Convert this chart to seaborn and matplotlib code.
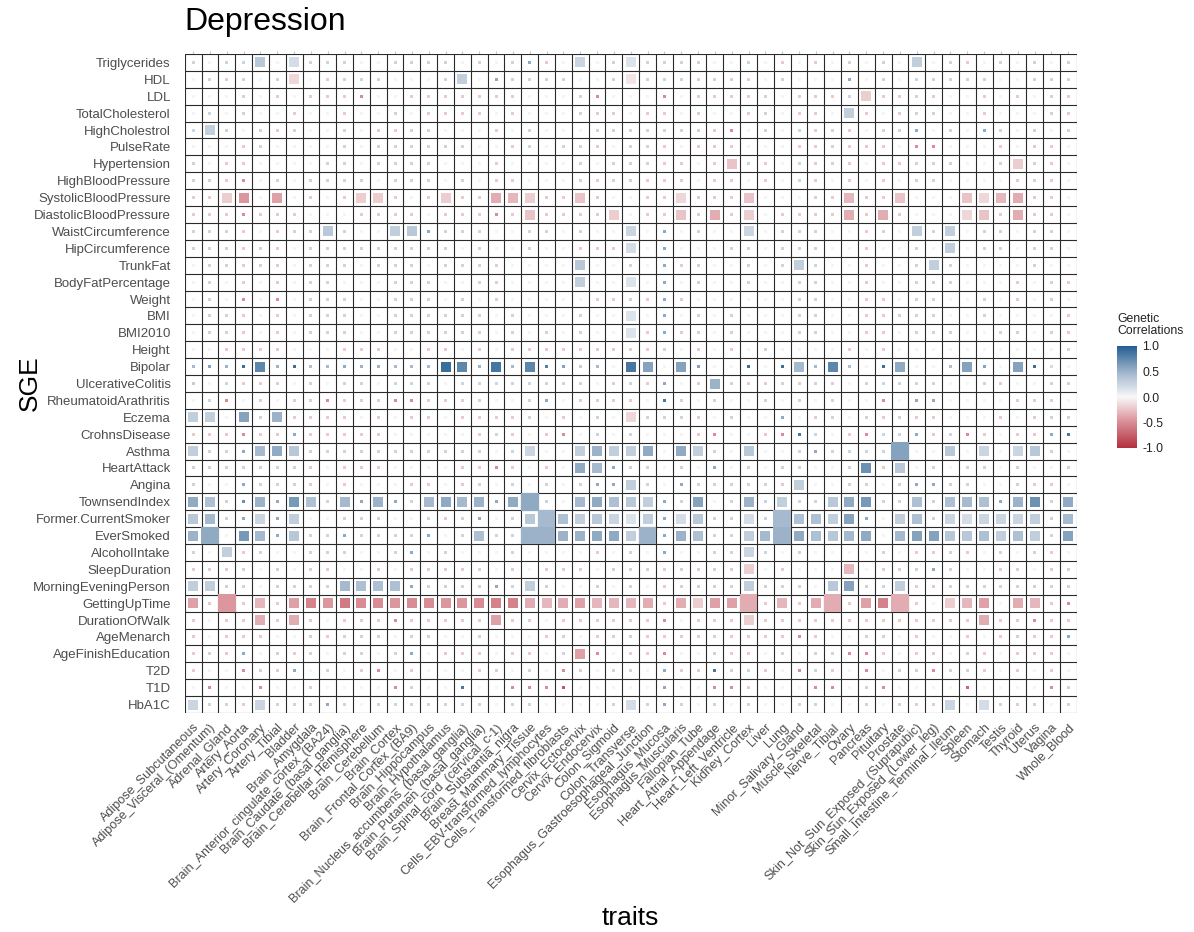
import numpy as np
import pandas as pd
import matplotlib
matplotlib.use("Agg")
import matplotlib.pyplot as plt
import seaborn as sns
from matplotlib.colors import LinearSegmentedColormap, Normalize

TRAITS = ["Adipose_Subcutaneous", "Adipose_Visceral_(Omentum)", "Adrenal_Gland", "Artery_Aorta",
          "Artery_Coronary", "Artery_Tibial", "Bladder", "Brain_Amygdala",
          "Brain_Anterior_cingulate_cortex_(BA24)", "Brain_Caudate_(basal_ganglia)",
          "Brain_Cerebellar_Hemisphere", "Brain_Cerebellum", "Brain_Cortex", "Brain_Frontal_Cortex_(BA9)",
          "Brain_Hippocampus", "Brain_Hypothalamus", "Brain_Nucleus_accumbens_(basal_ganglia)",
          "Brain_Putamen_(basal_ganglia)", "Brain_Spinal_cord_(cervical_c-1)", "Brain_Substantia_nigra",
          "Breast_Mammary_Tissue", "Cells_EBV-transformed_lymphocytes", "Cells_Transformed_fibroblasts",
          "Cervix_Ectocervix", "Cervix_Endocervix", "Colon_Sigmoid", "Colon_Transverse",
          "Esophagus_Gastroesophageal_Junction", "Esophagus_Mucosa", "Esophagus_Muscularis",
          "Fallopian_Tube", "Heart_Atrial_Appendage", "Heart_Left_Ventricle", "Kidney_Cortex", "Liver",
          "Lung", "Minor_Salivary_Gland", "Muscle_Skeletal", "Nerve_Tibial", "Ovary", "Pancreas",
          "Pituitary", "Prostate", "Skin_Not_Sun_Exposed_(Suprapubic)", "Skin_Sun_Exposed_(Lower_leg)",
          "Small_Intestine_Terminal_Ileum", "Spleen", "Stomach", "Testis", "Thyroid", "Uterus",
          "Vagina", "Whole_Blood"]

SGE = ["Triglycerides", "HDL", "LDL", "TotalCholesterol", "HighCholestrol", "PulseRate",
       "Hypertension", "HighBloodPressure", "SystolicBloodPressure", "DiastolicBloodPressure",
       "WaistCircumference", "HipCircumference", "TrunkFat", "BodyFatPercentage", "Weight", "BMI",
       "BMI2010", "Height", "Bipolar", "UlcerativeColitis", "RheumatoidArathritis", "Eczema",
       "CrohnsDisease", "Asthma", "HeartAttack", "Angina", "TownsendIndex", "Former.CurrentSmoker",
       "EverSmoked", "AlcoholIntake", "SleepDuration", "MorningEveningPerson", "GettingUpTime",
       "DurationOfWalk", "AgeMenarch", "AgeFinishEducation", "T2D", "T1D", "HbA1C"]

# genetic correlation (colour) per SGE row, one value per trait
R_TRIGLYCERIDES = [.25,.03,.25,.25,.35,.03,.2,.25,.25,.25, .03,.03,.25,.25,.25,.25,.03,.25,.03,.25, .55,-.22,.03,.25,.03,.25,.15,.25,.25,.25, .25,.03,.03,.25,.03,-.22,.03,-.22,.03,.25, .03,.25,.03,.3,.03,.25,-.22,.03,.25,.03, .25,.03,.25]
R_HDL = [.03,.25,-.22,.25,.03,.25,-.15,.03,-.22,.25, .25,.25,.03,.03,.03,.25,.3,.03,.55,.25, .25,.25,.25,.03,.03,.25,-.1,.25,.25,.25, -.22,.25,-.22,-.22,.03,.25,.03,.03,.03,.55, .03,.25,.03,.25,.25,.25,.25,.25,.03,.03, .25,.25,.25]
R_LDL = [.03,.03,.03,.25,.03,-.22,.03,-.22,-.22,-.22, -.5,.03,.03,-.22,-.22,-.22,-.22,-.22,-.22,-.22, .03,.03,.03,.25,-.5,.03,.03,.03,-.5,.03, -.22,-.22,-.22,-.22,.25,.03,-.22,-.22,-.22,.25, -.2,-.22,-.22,.25,-.22,.03,.03,-.22,.03,-.22, .03,.25,-.22]
R_TOTALCHOLESTEROL = [.03,.25,.03,.25,.03,.03,-.22,.03,.03,-.22, .03,.03,.25,.03,-.22,-.22,-.22,-.22,.03,-.22, .03,.03,.03,.25,-.22,-.22,.03,-.22,-.22,.03, -.22,.03,.03,-.22,.25,.03,-.22,-.22,.03,.3, -.22,.03,-.22,.25,.25,.03,.03,-.22,.03,.03, .03,.25,-.22]
R_HIGHCHOLESTROL = [.25,.3,.25,.03,.25,-.22,.25,.03,.03,.25, .03,-.22,-.22,.25,.25,.03,.03,.03,-.22,.03, .25,.03,.03,.03,.25,.25,.25,.25,.25,.25, .25,-.22,-.5,.03,.25,.03,.25,-.22,.25,-.22, .03,.25,.25,.55,.03,.25,.03,.55,.25,.03, .25,.03,.25]
R_PULSERATE = [.03,.03,.03,-.22,.25,.03,.03,.03,.03,.25, .03,.25,.25,.25,.25,.25,.25,.03,.03,-.22, .25,.03,.25,.25,-.22,.03,.25,.25,-.22,.03, -.22,-.22,-.22,.03,.03,.03,-.22,-.22,.25,-.22, -.22,-.22,.03,-.5,-.5,.03,.03,.03,-.22,.03, -.22,-.22,.03]
R_HYPERTENSION = [.25,.03,-.22,-.22,.03,.03,.03,.03,.25,.25, .03,.25,.25,.25,.25,.03,.03,.03,-.22,.03, .03,.03,.03,.25,.03,.25,.25,.25,-.22,-.22, .03,-.22,-.25,.25,-.22,.03,.25,-.22,.25,-.22, .03,-.22,-.22,.25,.25,.25,.03,.03,.25,-.2, .25,-.22,.03]
R_HIGHBLOODPRESSURE = [.25,.25,-.22,-.5,.03,.25,.03,.25,.25,.25, .25,.03,.25,.25,.25,.03,.25,.03,-.22,-.22, .03,.03,.03,.25,-.22,.25,.25,-.22,-.22,-.22, .03,-.22,-.22,.03,-.22,.03,.25,-.22,.03,-.22, .03,-.22,.03,.25,.25,.03,.03,.03,.03,-.22, .25,-.22,.03]
R_SYSTOLICBLOODPRESSURE = [-.22,-.22,-.2,-.45,.03,-.4,.03,-.22,.03,-.22, -.2,-.2,-.22,.03,-.22,-.2,-.22,-.22,-.35,-.3, -.2,-.22,-.22,-.25,-.22,.03,.03,-.22,-.22,-.15, -.22,-.22,-.22,-.25,.03,.03,.03,-.22,-.22,-.3, -.22,-.22,-.25,.03,.03,.03,-.25,-.15,-.3,-.35, -.22,-.22,.03]
R_DIASTOLICBLOODPRESSURE = [-.22,-.22,-.22,-.5,-.22,-.22,-.22,.03,.03,.03, -.22,-.22,-.22,-.22,.03,-.22,-.22,-.22,-.5,-.22, -.25,-.22,-.22,-.22,-.22,-.2,.03,-.22,-.22,-.25, -.22,-.35,-.22,-.2,.03,-.22,-.22,-.22,-.22,-.35, -.22,-.35,-.22,.03,.03,.03,-.15,-.25,-.22,-.35, -.22,-.22,.03]
R_WAISTCIRCUMFERENCE = [.25,.25,.25,-.22,.03,-.22,.25,.25,.35,.25, .03,.03,.3,.35,.55,.25,.25,.25,.03,.03, .25,.25,.03,.25,.03,.03,.25,.03,.55,.03, .25,.03,.03,.25,.03,.25,.25,.25,.03,.03, -.22,.25,.03,.3,.25,.3,.03,.25,.25,.03, .25,.25,.03]
R_HIPCIRCUMFERENCE = [.25,.25,.25,-.22,.25,-.22,.03,.25,.25,.25, .25,.25,.25,.25,.25,.25,.03,.25,.03,.03, .25,.03,.03,-.22,-.22,-.22,.2,.03,.55,.03, .03,.03,.25,.25,.03,.25,.25,.25,.03,.03, -.22,.03,.03,.25,.03,.3,.03,.25,.25,.03, .25,.25,.03]
R_TRUNKFAT = [.03,.25,.25,-.22,.25,-.22,.03,.25,.25,.25, .03,.25,.25,.25,.03,.25,.25,.25,-.22,.03, .03,.03,.03,.35,.03,.03,.25,.03,.55,-.22, .25,.03,.03,.25,.03,.25,.3,.25,.03,.03, -.22,.03,.03,.25,.3,.25,.03,.03,.03,.03, .25,.03,.03]
R_BODYFATPERCENTAGE = [.03,.25,.03,-.22,.03,-.22,.03,.25,.25,.03, .03,.03,.25,.25,.25,.03,.03,.25,-.22,.03, .03,.03,.03,.3,.03,.03,.15,.03,.55,.03, .25,.03,.03,.25,.03,.03,.25,.25,.03,.03, -.22,.03,.03,.25,.25,.25,.03,.03,.03,-.22, .03,.25,-.22]
R_WEIGHT = [.03,.25,.03,-.5,.03,-.5,.03,.25,.25,.25, .03,.03,.25,.25,.25,.03,.25,.03,-.22,.03, .03,.03,.03,.03,-.22,-.22,.25,-.22,.55,-.22, .03,.03,.03,.03,.03,.03,.25,.25,.03,.03, -.22,-.22,.03,.25,.25,.03,.03,.25,.03,-.22, .03,.25,.03]
R_BMI = [.03,.25,.25,-.22,.03,-.22,.03,.25,.25,.25, .03,.03,.25,.25,.25,.25,.25,.25,.03,.25, .03,.03,.03,.25,.03,.03,.15,.03,.55,.03, .25,.03,.25,.03,.03,.03,.25,.25,.03,.03, -.22,-.22,.25,.25,.25,.03,.03,.25,.03,.03, .03,.03,-.22]
R_BMI2010 = [.03,.25,.25,-.22,.03,-.22,.03,.25,.25,.25, .03,.03,.25,.25,.25,.25,.25,.25,.03,.25, .03,.25,.03,.25,.03,.03,.15,-.22,.55,-.22, .25,.03,.25,.03,.03,.03,.25,.25,.03,.03, -.22,-.22,.03,.25,.25,.25,.03,.03,.25,.25, .03,.25,-.22]
R_HEIGHT = [.03,.03,-.22,-.22,-.22,-.22,.03,.03,.03,-.22, -.22,-.22,.03,.03,-.22,-.22,.03,-.22,.03,-.22, -.22,-.22,-.22,-.22,-.22,-.22,-.22,-.22,.25,.03, -.22,.03,-.22,.03,.25,.03,.03,.03,.03,-.22, .03,-.22,.03,.03,.03,.03,.03,.03,.03,.03, .03,.03,.25]
R_BIPOLAR = [.45,.6,.5,.9,.75,.5,.9,.4,.45,.55, .5,.5,.45,.45,.45,.9,.75,.5,.85,.45, .75,.8,.6,.3,.45,.03,.85,.6,.03,.6, .6,.03,.03,.9,.03,.9,.45,.45,.75,.4, .03,.9,.55,.03,.03,.4,.6,.6,.03,.6, .9,.2,.03]
R_ULCERATIVECOLITIS = [.3,.03,.25,-.22,-.22,-.22,.03,.25,.03,.25, .25,.03,.25,.25,.25,.03,.25,.25,.25,.25, .25,.25,.25,.25,.03,-.22,.25,-.22,.55,.03, -.22,.5,.25,-.22,-.22,.25,-.22,.25,-.22,.03, .25,.25,.25,.25,.25,.03,.03,.25,-.22,.03, .03,.25,.25]
R_RHEUMATOIDARATHRITIS = [.03,.25,-.5,.03,-.22,.03,-.22,-.22,-.5,-.22, -.22,-.22,-.5,-.5,-.22,-.22,-.22,-.22,.03,.03, .25,.55,.03,-.22,-.22,-.22,-.22,.03,.85,-.22, .03,.25,.03,.03,.25,.03,-.22,.03,-.22,.03, .03,-.5,.03,.55,.55,.03,.03,.03,.03,-.22, -.22,-.22,.03]
R_ECZEMA = [.3,.3,.03,.6,.25,.5,-.22,-.22,-.22,-.22, .03,-.22,.03,-.22,-.22,.03,-.22,-.22,-.22,-.22, .25,.03,-.22,.03,.25,.03,-.15,.25,.25,.25, -.22,.03,.25,.03,.03,.55,.03,-.22,.25,.03, .25,-.22,.25,-.22,-.22,.03,.03,.03,-.22,.03, -.22,.25,.25]
R_CROHNSDISEASE = [-.22,-.22,-.22,-.5,-.22,-.22,.55,-.22,-.22,-.22, -.22,-.22,.03,.03,.03,.03,.03,-.22,.25,-.22, .03,-.22,-.5,.03,.25,.03,.25,.03,.03,.03, -.22,-.5,.03,.03,-.22,-.5,.85,.25,.03,-.22, -.5,.25,.25,.55,-.22,.25,-.5,-.22,.03,-.22, -.22,.55,.85]
R_ASTHMA = [.3,.25,.25,.55,.45,.55,.35,.25,.25,.25, .25,.25,.25,.25,.25,.25,.25,.25,.03,.25, .25,.03,.03,.3,.5,.3,.3,.55,.03,.55, .3,.25,.03,.35,.03,.03,.25,.55,.25,.25, .25,.25,.6,.03,.03,.35,.03,.25,.03,.25, .35,.25,.03]
R_HEARTATTACK = [.25,.25,.25,.25,.25,.25,.25,-.22,.03,-.22, -.22,-.22,.03,.03,.03,.03,-.22,-.22,-.5,-.22, .03,-.22,.03,.55,.45,.55,.25,.25,.03,.25, .03,.55,.03,.25,.03,.25,.25,.03,.03,.25, .7,-.22,.35,.03,.25,.03,.25,.25,.03,.25, .03,.03,.25]
R_ANGINA = [.25,.03,.03,.55,.25,.25,.25,-.22,.03,-.22, .03,.03,.03,-.22,-.22,.03,-.22,.25,.03,.25, .03,.25,.03,.25,.55,.55,.3,.25,.03,.55, .25,.25,.25,.25,.25,-.22,.3,.03,.03,.25, .25,.03,.25,.55,.55,.25,.25,.03,.03,.25, -.22,-.22,.03]
R_TOWNSENDINDEX = [.55,.4,.25,.7,.5,.55,.65,.4,.25,.45, .55,.5,.55,.25,.45,.55,.45,.5,.55,.55, .55,.25,.03,.45,.55,.4,.35,.3,.55,.25, .6,.03,.25,.5,.25,.3,.25,.25,.35,.55, .65,.25,.25,.4,.25,.4,.45,.4,.55,.5, .7,.25,.55]
R_FORMERCURRENTSMOKER = [.35,.45,.25,.55,.25,.55,.3,.03,.03,.25, .25,.25,.03,.03,.25,-.22,.25,.55,.03,.25, .35,.45,.4,.3,.35,.25,.15,.3,.55,.2, .35,.25,.25,.2,.25,.45,.4,.4,.3,.6, .55,.03,.3,.4,.25,.25,.2,.25,.25,.25, .3,.25,.45]
R_EVERSMOKED = [.5,.55,.03,.65,.45,.55,.35,.25,.25,.55, .25,.25,.25,.25,.55,.03,.25,.4,.25,.25, .5,.5,.5,.5,.55,.55,.3,.5,.55,.5, .4,.25,.25,.3,.45,.5,.55,.4,.35,.45, .55,.03,.45,.6,.6,.35,.35,.4,.3,.4, .3,.25,.6]
R_ALCOHOLINTAKE = [.25,.03,.3,-.22,.25,.03,.03,.25,.25,.25, .03,.03,.25,.55,.03,.25,.03,.03,.03,.25, .03,.03,.03,.03,-.22,.03,.25,.03,.55,.03, .03,.25,.25,.25,.25,.03,.25,.03,.03,.03, .03,.25,.03,-.22,-.22,.25,-.22,.03,.25,.03, .25,-.22,.03]
R_SLEEPDURATION = [-.22,-.22,-.22,.25,.03,.25,.03,-.22,-.22,.03, .03,-.22,.03,-.22,-.22,-.22,-.22,-.22,.03,-.22, .03,-.22,-.22,-.22,.03,.25,.25,.25,-.22,.25, -.22,.25,-.22,-.2,.03,-.22,.03,.03,.03,-.3, .03,-.22,-.22,.25,.55,-.22,.03,.03,-.22,-.22, .03,-.22,.25]
R_MORNINGEVENINGPERSON = [.3,.3,.25,.25,.03,.25,.25,.25,.25,.45, .4,.4,.4,.55,.25,.25,.25,.25,.55,.25, .3,.25,.03,.03,.25,.03,.25,.03,-.22,.25, .25,.25,.25,.3,.25,.25,.25,.03,.35,.6, .25,.25,.3,-.22,-.22,.25,.25,.25,.25,.25, .25,.25,.25]
R_GETTINGUPTIME = [-.4,-.22,-.45,-.22,-.3,-.22,-.4,-.55,-.45,-.6, -.5,-.5,-.45,-.5,-.5,-.45,-.45,-.5,-.55,-.55, -.35,-.3,-.35,-.4,-.3,-.3,-.3,-.35,-.22,-.35, -.2,-.4,-.4,-.35,-.22,-.3,-.22,-.35,-.35,-.22, -.4,-.55,-.35,-.22,.03,-.2,-.3,-.4,.03,-.35, -.3,-.22,-.5]
R_DURATIONOFWALK = [-.22,.03,-.22,-.22,-.35,-.22,-.35,-.22,.03,-.22, -.22,-.22,-.5,-.22,-.22,-.22,-.22,-.22,-.4,-.22, -.22,.03,-.22,-.22,-.22,-.22,-.22,-.22,-.5,.03, -.22,-.22,-.22,-.2,-.22,-.22,-.22,-.22,-.22,-.22, -.22,-.22,-.22,-.22,-.22,-.22,-.22,-.35,-.22,-.22, -.5,-.22,-.22]
R_AGEMENARCH = [-.22,.03,-.22,-.22,-.22,.03,.03,.25,-.22,.25, .25,.25,.03,.25,.25,.03,.03,.25,.03,.03, .03,-.22,.25,.03,-.22,.25,.25,-.22,-.22,-.22, -.22,.25,-.22,-.22,-.22,-.22,-.5,-.22,.03,.03, .25,.25,.03,-.22,.03,.03,-.22,.03,-.22,.25, -.22,-.22,.55]
R_AGEFINISHEDUCATION = [-.22,.25,-.22,.55,.03,.25,-.22,.25,.03,.25, .25,.03,.25,.55,.03,-.22,-.22,-.22,.03,-.22, -.22,.03,.25,-.4,-.5,.03,-.22,-.22,-.5,.03, .03,.25,-.22,-.22,.03,.25,.03,.25,.25,-.5, -.5,-.22,.03,-.22,-.22,.03,.25,-.22,.03,-.22, -.22,-.22,.03]
R_T2D = [-.22,.03,.03,-.5,.25,-.22,.55,.03,.25,.03, -.22,-.5,.03,-.22,.03,.03,.03,-.22,.25,.03, .25,.03,-.5,-.22,.03,.25,.25,.03,.55,-.22, -.22,.85,.25,.25,-.22,.03,-.5,.25,-.22,.03, -.5,.03,.25,.25,-.5,.25,.25,-.22,.03,-.22, .03,-.22,.03]
R_T1D = [.03,-.5,.03,.03,-.5,.03,.03,-.22,.03,.03, .03,.03,-.5,.25,.03,.03,.85,.03,.03,-.5, -.5,-.5,-.8,.03,.03,.03,.03,.03,.55,.03, .03,-.5,-.5,-.22,.03,.03,.03,-.5,-.5,.03, .25,-.5,.03,.03,.03,.03,-.7,.03,.03,.03, .03,-.5,.25]
R_HBA1C = [.25,.25,.25,-.22,.25,.25,.25,.25,.55,.25, .03,.25,.25,.25,.25,.25,.25,.25,.03,.25, .25,.03,.03,.03,.03,.25,.2,.25,.55,.25, .03,.25,.03,.25,.03,.03,.25,.25,.03,.03, .25,.03,.25,-.22,-.22,.25,.03,.2,.25,-.22, .25,.03,.25]

# significance level per cell (0 = not significant, 1 = significant, 2 = highly significant)
S_TRIGLYCERIDES = [0,0,0,0,1,0,1,0,0,0, 0,0,0,0,0,0,0,0,0,0, 0,0,0,1,0,0,1,0,0,0, 0,0,0,0,0,0,0,0,0,0, 0,0,0,1,0,0,0,0,0,0, 0,0,0]
S_HDL = [0,0,0,0,0,0,1,0,0,0, 0,0,0,0,0,0,1,0,0,0, 0,0,0,0,0,0,1,0,0,0, 0,0,0,0,0,0,0,0,0,0, 0,0,0,0,0,0,0,0,0,0, 0,0,0]
S_LDL = [0,0,0,0,0,0,0,0,0,0, 0,0,0,0,0,0,0,0,0,0, 0,0,0,0,0,0,0,0,0,0, 0,0,0,0,0,0,0,0,0,0, 1,0,0,0,0,0,0,0,0,0, 0,0,0]
S_TOTALCHOLESTEROL = [0,0,0,0,0,0,0,0,0,0, 0,0,0,0,0,0,0,0,0,0, 0,0,0,0,0,0,0,0,0,0, 0,0,0,0,0,0,0,0,0,1, 0,0,0,0,0,0,0,0,0,0, 0,0,0]
S_HIGHCHOLESTROL = [0,1,0,0,0,0,0,0,0,0, 0,0,0,0,0,0,0,0,0,0, 0,0,0,0,0,0,0,0,0,0, 0,0,0,0,0,0,0,0,0,0, 0,0,0,0,0,0,0,0,0,0, 0,0,0]
S_PULSERATE = [0,0,0,0,0,0,0,0,0,0, 0,0,0,0,0,0,0,0,0,0, 0,0,0,0,0,0,0,0,0,0, 0,0,0,0,0,0,0,0,0,0, 0,0,0,0,0,0,0,0,0,0, 0,0,0]
S_HYPERTENSION = [0,0,0,0,0,0,0,0,0,0, 0,0,0,0,0,0,0,0,0,0, 0,0,0,0,0,0,0,0,0,0, 0,0,1,0,0,0,0,0,0,0, 0,0,0,0,0,0,0,0,0,1, 0,0,0]
S_HIGHBLOODPRESSURE = [0,0,0,0,0,0,0,0,0,0, 0,0,0,0,0,0,0,0,0,0, 0,0,0,0,0,0,0,0,0,0, 0,0,0,0,0,0,0,0,0,0, 0,0,0,0,0,0,0,0,0,0, 0,0,0]
S_SYSTOLICBLOODPRESSURE = [0,0,1,1,0,1,0,0,0,0, 1,1,0,0,0,1,0,0,1,1, 1,0,0,1,0,0,0,0,0,1, 0,0,0,1,0,0,0,0,0,1, 0,0,1,0,0,0,1,1,1,1, 0,0,0]
S_DIASTOLICBLOODPRESSURE = [0,0,0,0,0,0,0,0,0,0, 0,0,0,0,0,0,0,0,0,0, 1,0,0,0,0,1,0,0,0,1, 0,1,0,1,0,0,0,0,0,1, 0,1,0,0,0,0,1,1,0,1, 0,0,0]
S_WAISTCIRCUMFERENCE = [0,0,0,0,0,0,0,0,1,0, 0,0,1,1,0,0,0,0,0,0, 0,0,0,0,0,0,1,0,0,0, 0,0,0,1,0,0,0,0,0,0, 0,0,0,1,0,1,0,0,0,0, 0,0,0]
S_HIPCIRCUMFERENCE = [0,0,0,0,0,0,0,0,0,0, 0,0,0,0,0,0,0,0,0,0, 0,0,0,0,0,0,1,0,0,0, 0,0,0,0,0,0,0,0,0,0, 0,0,0,0,0,1,0,0,0,0, 0,0,0]
S_TRUNKFAT = [0,0,0,0,0,0,0,0,0,0, 0,0,0,0,0,0,0,0,0,0, 0,0,0,1,0,0,0,0,0,0, 0,0,0,0,0,0,1,0,0,0, 0,0,0,0,1,0,0,0,0,0, 0,0,0]
S_BODYFATPERCENTAGE = [0,0,0,0,0,0,0,0,0,0, 0,0,0,0,0,0,0,0,0,0, 0,0,0,1,0,0,1,0,0,0, 0,0,0,0,0,0,0,0,0,0, 0,0,0,0,0,0,0,0,0,0, 0,0,0]
S_WEIGHT = [0,0,0,0,0,0,0,0,0,0, 0,0,0,0,0,0,0,0,0,0, 0,0,0,0,0,0,0,0,0,0, 0,0,0,0,0,0,0,0,0,0, 0,0,0,0,0,0,0,0,0,0, 0,0,0]
S_BMI = [0,0,0,0,0,0,0,0,0,0, 0,0,0,0,0,0,0,0,0,0, 0,0,0,0,0,0,1,0,0,0, 0,0,0,0,0,0,0,0,0,0, 0,0,0,0,0,0,0,0,0,0, 0,0,0]
S_BMI2010 = [0,0,0,0,0,0,0,0,0,0, 0,0,0,0,0,0,0,0,0,0, 0,0,0,0,0,0,1,0,0,0, 0,0,0,0,0,0,0,0,0,0, 0,0,0,0,0,0,0,0,0,0, 0,0,0]
S_HEIGHT = [0,0,0,0,0,0,0,0,0,0, 0,0,0,0,0,0,0,0,0,0, 0,0,0,0,0,0,0,0,0,0, 0,0,0,0,0,0,0,0,0,0, 0,0,0,0,0,0,0,0,0,0, 0,0,0]
S_BIPOLAR = [0,0,0,0,1,0,0,0,0,0, 0,0,0,0,0,1,1,0,1,0, 1,0,0,0,0,0,1,1,0,1, 0,0,0,0,0,0,1,0,1,0, 0,0,1,0,0,0,1,0,0,1, 0,0,0]
S_ULCERATIVECOLITIS = [0,0,0,0,0,0,0,0,0,0, 0,0,0,0,0,0,0,0,0,0, 0,0,0,0,0,0,0,0,0,0, 0,1,0,0,0,0,0,0,0,0, 0,0,0,0,0,0,0,0,0,0, 0,0,0]
S_RHEUMATOIDARATHRITIS = [0,0,0,0,0,0,0,0,0,0, 0,0,0,0,0,0,0,0,0,0, 0,0,0,0,0,0,0,0,0,0, 0,0,0,0,0,0,0,0,0,0, 0,0,0,0,0,0,0,0,0,0, 0,0,0]
S_ECZEMA = [1,1,0,1,0,1,0,0,0,0, 0,0,0,0,0,0,0,0,0,0, 0,0,0,0,0,0,1,0,0,0, 0,0,0,0,0,0,0,0,0,0, 0,0,0,0,0,0,0,0,0,0, 0,0,0]
S_CROHNSDISEASE = [0,0,0,0,0,0,0,0,0,0, 0,0,0,0,0,0,0,0,0,0, 0,0,0,0,0,0,0,0,0,0, 0,0,0,0,0,0,0,0,0,0, 0,0,0,0,0,0,0,0,0,0, 0,0,0]
S_ASTHMA = [1,0,0,0,1,1,1,0,0,0, 0,0,0,0,0,0,0,0,0,0, 1,0,0,1,1,1,1,1,0,1, 1,0,0,1,0,0,0,0,0,0, 0,0,2,0,0,1,0,1,0,1, 1,0,0]
S_HEARTATTACK = [0,0,0,0,0,0,0,0,0,0, 0,0,0,0,0,0,0,0,0,0, 0,0,0,1,1,0,0,0,0,0, 0,0,0,0,0,0,0,0,0,0, 1,0,1,0,0,0,0,0,0,0, 0,0,0]
S_ANGINA = [0,0,0,0,0,0,0,0,0,0, 0,0,0,0,0,0,0,0,0,0, 0,0,0,0,0,0,1,0,0,0, 0,0,0,0,0,0,1,0,0,0, 0,0,0,0,0,0,0,0,0,0, 0,0,0]
S_TOWNSENDINDEX = [1,1,0,0,1,0,1,1,0,1, 0,1,0,0,1,1,1,1,0,1, 2,0,0,1,1,1,1,1,0,0, 1,0,0,1,0,1,0,0,1,1, 1,0,0,1,0,1,1,1,0,1, 1,0,1]
S_FORMERCURRENTSMOKER = [1,1,0,0,1,0,1,0,0,0, 0,0,0,0,0,0,0,0,0,0, 1,2,1,1,1,1,1,1,0,1, 1,0,0,1,0,2,1,1,1,1, 0,0,1,1,0,1,1,1,1,1, 1,0,1]
S_EVERSMOKED = [1,2,0,1,1,0,1,0,0,0, 0,0,0,0,0,0,0,1,0,0, 2,2,1,1,1,1,1,2,0,1, 1,0,0,1,1,2,1,1,1,1, 1,0,1,1,1,1,1,1,1,1, 1,0,1]
S_ALCOHOLINTAKE = [0,0,1,0,0,0,0,0,0,0, 0,0,0,0,0,0,0,0,0,0, 0,0,0,0,0,0,0,0,0,0, 0,0,0,1,0,0,0,0,0,0, 0,0,0,0,0,0,0,0,0,0, 0,0,0]
S_SLEEPDURATION = [0,0,0,0,0,0,0,0,0,0, 0,0,0,0,0,0,0,0,0,0, 0,0,0,0,0,0,0,0,0,0, 0,0,0,1,0,0,0,0,0,1, 0,0,0,0,0,0,0,0,0,0, 0,0,0]
S_MORNINGEVENINGPERSON = [1,1,0,0,0,0,0,0,0,1, 1,1,1,0,0,0,0,0,0,0, 1,0,0,0,0,0,0,0,0,0, 0,0,0,1,0,0,0,0,1,1, 0,0,1,0,0,0,0,0,0,0, 0,0,0]
S_GETTINGUPTIME = [1,0,2,0,1,0,1,1,1,1, 1,1,1,1,1,1,1,1,1,1, 1,1,1,1,1,1,1,1,0,1, 1,1,1,2,0,1,0,1,2,0, 1,1,2,0,0,1,1,1,0,1, 1,0,0]
S_DURATIONOFWALK = [0,0,0,0,1,0,1,0,0,0, 0,0,0,0,0,0,0,0,1,0, 0,0,0,0,0,0,0,0,0,0, 0,0,0,1,0,0,0,0,0,0, 0,0,0,0,0,0,0,1,0,0, 0,0,0]
S_AGEMENARCH = [0,0,0,0,0,0,0,0,0,0, 0,0,0,0,0,0,0,0,0,0, 0,0,0,0,0,0,0,0,0,0, 0,0,0,0,0,0,0,0,0,0, 0,0,0,0,0,0,0,0,0,0, 0,0,0]
S_AGEFINISHEDUCATION = [0,0,0,0,0,0,0,0,0,0, 0,0,0,0,0,0,0,0,0,0, 0,0,0,1,0,0,0,0,0,0, 0,0,0,0,0,0,0,0,0,0, 0,0,0,0,0,0,0,0,0,0, 0,0,0]
S_T2D = [0,0,0,0,0,0,0,0,0,0, 0,0,0,0,0,0,0,0,0,0, 0,0,0,0,0,0,0,0,0,0, 0,0,0,0,0,0,0,0,0,0, 0,0,0,0,0,0,0,0,0,0, 0,0,0]
S_T1D = [0,0,0,0,0,0,0,0,0,0, 0,0,0,0,0,0,0,0,0,0, 0,0,0,0,0,0,0,0,0,0, 0,0,0,0,0,0,0,0,0,0, 0,0,0,0,0,0,0,0,0,0, 0,0,0]
S_HBA1C = [1,0,0,0,1,0,0,0,0,0, 0,0,0,0,0,0,0,0,0,0, 0,0,0,0,0,0,1,0,0,0, 0,0,0,0,0,0,0,0,0,0, 0,0,0,0,0,1,0,1,0,0, 0,0,0]

CORR = [R_TRIGLYCERIDES, R_HDL, R_LDL, R_TOTALCHOLESTEROL, R_HIGHCHOLESTROL, R_PULSERATE,
        R_HYPERTENSION, R_HIGHBLOODPRESSURE, R_SYSTOLICBLOODPRESSURE, R_DIASTOLICBLOODPRESSURE,
        R_WAISTCIRCUMFERENCE, R_HIPCIRCUMFERENCE, R_TRUNKFAT, R_BODYFATPERCENTAGE, R_WEIGHT, R_BMI,
        R_BMI2010, R_HEIGHT, R_BIPOLAR, R_ULCERATIVECOLITIS, R_RHEUMATOIDARATHRITIS, R_ECZEMA,
        R_CROHNSDISEASE, R_ASTHMA, R_HEARTATTACK, R_ANGINA, R_TOWNSENDINDEX, R_FORMERCURRENTSMOKER,
        R_EVERSMOKED, R_ALCOHOLINTAKE, R_SLEEPDURATION, R_MORNINGEVENINGPERSON, R_GETTINGUPTIME,
        R_DURATIONOFWALK, R_AGEMENARCH, R_AGEFINISHEDUCATION, R_T2D, R_T1D, R_HBA1C]
SIG = [S_TRIGLYCERIDES, S_HDL, S_LDL, S_TOTALCHOLESTEROL, S_HIGHCHOLESTROL, S_PULSERATE,
       S_HYPERTENSION, S_HIGHBLOODPRESSURE, S_SYSTOLICBLOODPRESSURE, S_DIASTOLICBLOODPRESSURE,
       S_WAISTCIRCUMFERENCE, S_HIPCIRCUMFERENCE, S_TRUNKFAT, S_BODYFATPERCENTAGE, S_WEIGHT, S_BMI,
       S_BMI2010, S_HEIGHT, S_BIPOLAR, S_ULCERATIVECOLITIS, S_RHEUMATOIDARATHRITIS, S_ECZEMA,
       S_CROHNSDISEASE, S_ASTHMA, S_HEARTATTACK, S_ANGINA, S_TOWNSENDINDEX, S_FORMERCURRENTSMOKER,
       S_EVERSMOKED, S_ALCOHOLINTAKE, S_SLEEPDURATION, S_MORNINGEVENINGPERSON, S_GETTINGUPTIME,
       S_DURATIONOFWALK, S_AGEMENARCH, S_AGEFINISHEDUCATION, S_T2D, S_T1D, S_HBA1C]

for name, rv, sv in zip(SGE, CORR, SIG):
    assert len(rv) == len(TRAITS), (name, "R", len(rv))
    assert len(sv) == len(TRAITS), (name, "S", len(sv))

records = []
for i, (name, rv, sv) in enumerate(zip(SGE, CORR, SIG)):
    for j, (t, r, s) in enumerate(zip(TRAITS, rv, sv)):
        records.append({"SGE": name, "trait": t, "yi": i, "xi": j, "r": r, "sig": s})
df = pd.DataFrame(records)

sns.set_style("white")
plt.rcParams["font.family"] = ["Liberation Sans", "DejaVu Sans"]

W, H, DPI = 1194, 932, 100
fig = plt.figure(figsize=(W / DPI, H / DPI), dpi=DPI)
fig.patch.set_facecolor("white")
gx0, gx1, gy0, gy1 = 184.7, 1076.7, 54.0, 713.0
ax = fig.add_axes([gx0 / W, 1 - gy1 / H, (gx1 - gx0) / W, (gy1 - gy0) / H])

ncol, nrow = len(TRAITS), len(SGE)
cell_px = (gx1 - gx0) / ncol
pt = 72.0 / DPI
sizes = {0: (3.0 * pt) ** 2, 1: (10.0 * pt) ** 2, 2: ((cell_px + 0.8) * pt) ** 2}

cmap = LinearSegmentedColormap.from_list(
    "gc", [(0.0, "#B2303F"), (0.25, "#D98C94"), (0.5, "#F8F8F8"), (0.75, "#9DB3CA"), (1.0, "#235E90")])

sns.scatterplot(data=df, x="xi", y="yi", hue="r", palette=cmap, hue_norm=(-1, 1),
                size="sig", sizes=sizes, marker="s", linewidth=0, legend=False, ax=ax, zorder=3)

ax.set_xlim(-0.5, ncol - 0.5)
ax.set_ylim(nrow - 0.5, -0.5)
ax.set_xticks(np.arange(-0.5, ncol, 1.0), minor=True)
ax.set_yticks(np.arange(-0.5, nrow, 1.0), minor=True)
ax.grid(False)
ax.grid(which="minor", color="#2b2b2b", linewidth=0.8, zorder=1)
ax.set_axisbelow(True)
for sp in ax.spines.values():
    sp.set_visible(False)

ax.set_xticks(range(ncol))
ax.set_xticklabels(TRAITS, rotation=45, ha="right", va="top", rotation_mode="anchor",
                   fontsize=9.1, color="#4d4d4d")
ax.set_yticks(range(nrow))
ax.set_yticklabels(SGE, fontsize=9.5, color="#4d4d4d")
ax.tick_params(axis="x", which="major", length=2, color="#c8c8c8", pad=4, top=True, labeltop=False)
ax.tick_params(axis="y", which="major", length=2, color="#c8c8c8", pad=8)
ax.tick_params(which="minor", length=0)

ax.set_xlabel("traits", fontsize=19, color="black")
ax.xaxis.set_label_coords(0.5, (gy1 - 918) / (gy1 - gy0))
ax.xaxis.label.set_va("center")
ax.set_ylabel("SGE", fontsize=19, color="black")
ax.yaxis.set_label_coords((30 - gx0) / (gx1 - gx0), 0.5)
ax.yaxis.label.set_va("center")

ax.set_title("Depression", loc="left", fontsize=23, pad=17, color="black")

cax = fig.add_axes([1117 / W, 1 - 448 / H, 20 / W, 102 / H])
sm = plt.cm.ScalarMappable(norm=Normalize(-1, 1), cmap=cmap)
cb = fig.colorbar(sm, cax=cax, ticks=[-1, -0.5, 0, 0.5, 1])
cb.outline.set_visible(False)
cb.ax.set_yticklabels(["-1.0", "-0.5", "0.0", "0.5", "1.0"])
cb.ax.tick_params(direction="in", color="white", length=4, width=0.8, labelsize=8.8,
                  left=True, right=True, pad=4, labelcolor="#222222")
fig.text(1117 / W, 1 - 325 / H, "Genetic\nCorrelations", fontsize=8.8, ha="left", va="center",
         color="#222222", linespacing=1.1)

fig.savefig("out.png", dpi=DPI, facecolor="white")
